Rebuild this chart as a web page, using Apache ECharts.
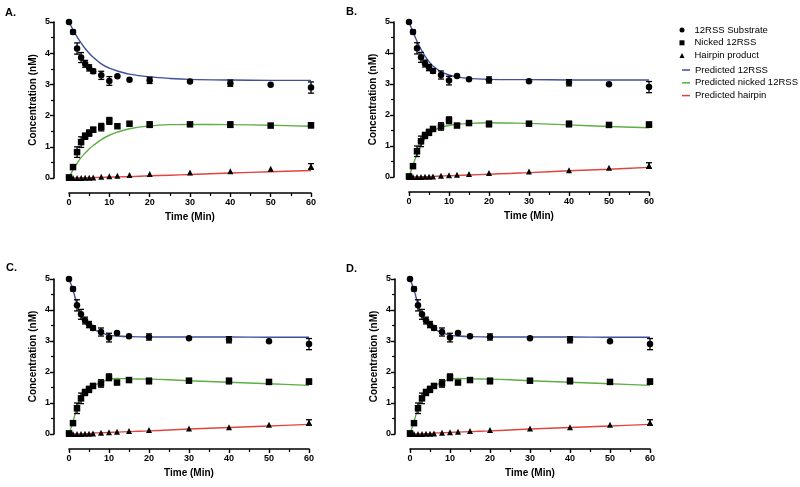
<!DOCTYPE html>
<html><head><meta charset="utf-8">
<script src="https://cdn.jsdelivr.net/npm/echarts@6/dist/echarts.min.js"></script>
<style>html,body{margin:0;padding:0;background:#fff}#c{width:800px;height:487px}</style>
</head><body><div id="c"></div><script>
// ---- data ----
const panelLabels = ['A.', 'B.', 'C.', 'D.'];
const time = [0, 1, 2, 3, 4, 5, 6, 8, 10, 12, 15, 20, 30, 40, 50, 60];
const substrate    = [5.00, 4.68, 4.15, 3.86, 3.66, 3.53, 3.42, 3.29, 3.11, 3.26, 3.15, 3.13, 3.09, 3.04, 2.99, 2.90];
const substrateErr = [0, 0.06, 0.18, 0.16, 0.11, 0.10, 0.07, 0.13, 0.14, 0, 0, 0.10, 0, 0.10, 0, 0.18];
const nicked       = [0.02, 0.35, 0.83, 1.15, 1.34, 1.44, 1.55, 1.63, 1.83, 1.66, 1.74, 1.71, 1.72, 1.71, 1.68, 1.69];
const nickedErr    = [0, 0.06, 0.17, 0.17, 0.10, 0.10, 0.07, 0.12, 0.11, 0, 0, 0.09, 0, 0.09, 0, 0.08];
const hairpin      = [0, 0, 0, 0, 0.01, 0.01, 0.02, 0.04, 0.06, 0.07, 0.10, 0.13, 0.18, 0.22, 0.30, 0.37];
const hairpinErr   = [0, 0, 0, 0, 0, 0, 0, 0, 0, 0, 0, 0, 0, 0, 0, 0.09];

const predTime = [0, 1, 2, 3, 4, 5, 6, 8, 10, 12, 15, 20, 25, 30, 40, 50, 60];
const predSubstrate = [
  [5.00, 4.75, 4.52, 4.33, 4.15, 4.00, 3.87, 3.66, 3.52, 3.43, 3.33, 3.24, 3.19, 3.16, 3.14, 3.13, 3.13],
  [5.00, 4.68, 4.38, 4.12, 3.90, 3.72, 3.58, 3.40, 3.29, 3.23, 3.18, 3.15, 3.14, 3.14, 3.13, 3.13, 3.13],
  [5.00, 4.65, 4.18, 3.80, 3.62, 3.48, 3.39, 3.27, 3.19, 3.16, 3.14, 3.13, 3.13, 3.13, 3.13, 3.12, 3.12],
  [5.00, 4.65, 4.18, 3.80, 3.62, 3.48, 3.39, 3.27, 3.19, 3.16, 3.14, 3.13, 3.13, 3.13, 3.13, 3.12, 3.12]
];
const predNicked = [
  [0, 0.27, 0.47, 0.66, 0.80, 0.93, 1.04, 1.23, 1.37, 1.47, 1.58, 1.67, 1.71, 1.72, 1.71, 1.69, 1.66],
  [0, 0.38, 0.74, 1.02, 1.24, 1.38, 1.48, 1.60, 1.66, 1.70, 1.73, 1.75, 1.74, 1.73, 1.68, 1.63, 1.59],
  [0, 0.40, 0.85, 1.18, 1.35, 1.46, 1.54, 1.67, 1.77, 1.79, 1.78, 1.77, 1.75, 1.72, 1.67, 1.62, 1.57],
  [0, 0.40, 0.85, 1.18, 1.35, 1.46, 1.54, 1.67, 1.77, 1.79, 1.78, 1.77, 1.75, 1.72, 1.67, 1.62, 1.57]
];
const predHairpin = [
  [0, 0, 0.005, 0.008, 0.01, 0.012, 0.015, 0.02, 0.03, 0.035, 0.045, 0.07, 0.09, 0.11, 0.16, 0.20, 0.24],
  [0, 0, 0.005, 0.008, 0.01, 0.015, 0.02, 0.03, 0.04, 0.05, 0.065, 0.09, 0.115, 0.14, 0.20, 0.25, 0.31],
  [0, 0, 0, 0.005, 0.008, 0.01, 0.03, 0.04, 0.05, 0.06, 0.075, 0.10, 0.13, 0.16, 0.21, 0.26, 0.31],
  [0, 0, 0, 0.005, 0.008, 0.01, 0.03, 0.04, 0.05, 0.06, 0.075, 0.10, 0.13, 0.16, 0.21, 0.26, 0.31]
];
const xTicks = { min: 0, max: 60, interval: 10 };
const yTicks = { min: 0, max: 5, interval: 1 };
const obsNames = ['12RSS Substrate', 'Nicked 12RSS', 'Hairpin product'];
const predNames = ['Predicted 12RSS', 'Predicted nicked 12RSS', 'Predicted hairpin'];

// ---- build ----
const FONT = 'Liberation Sans, Arial, sans-serif';
const predColors = ['#3d4f9e', '#5cae45', '#e0443f'];
const symbols = ['circle', 'rect', 'triangle'];
const grids = [
  { left: 69, top: 22, width: 242, height: 156 },
  { left: 409, top: 22, width: 240, height: 155 },
  { left: 69, top: 279, width: 240, height: 155 },
  { left: 410, top: 279, width: 240, height: 155 }
];
const axisCommon = {
  axisLine: { show: true, onZero: false, lineStyle: { color: '#000', width: 1.6 } },
  axisTick: { show: true, length: 4, lineStyle: { color: '#000', width: 1.4 } },
  minorTick: { show: true, splitNumber: 2, length: 3, lineStyle: { color: '#000', width: 1.2 } },
  splitLine: { show: false },
  axisLabel: { color: '#000', fontSize: 9, fontWeight: 'bold', fontFamily: FONT },
  nameTextStyle: { color: '#000', fontSize: 10, fontWeight: 'bold', fontFamily: FONT }
};
const xAxes = grids.map((g, i) => Object.assign({}, axisCommon, {
  type: 'value', gridIndex: i, min: xTicks.min, max: xTicks.max, interval: xTicks.interval,
  position: 'bottom', offset: 15, name: 'Time (Min)', nameLocation: 'middle', nameGap: 19,
  axisLabel: Object.assign({}, axisCommon.axisLabel, { margin: 5 })
}));
const yAxes = grids.map((g, i) => Object.assign({}, axisCommon, {
  type: 'value', gridIndex: i, min: yTicks.min, max: yTicks.max, interval: yTicks.interval,
  position: 'left', offset: 15, name: 'Concentration (nM)', nameLocation: 'middle', nameGap: 16,
  axisLabel: Object.assign({}, axisCommon.axisLabel, { margin: 4 })
}));

function errRender(params, api) {
  const x = api.value(0), lo = api.value(1), hi = api.value(2);
  const a = api.coord([x, hi]), b = api.coord([x, lo]);
  const w = 3;
  const st = { stroke: '#000', lineWidth: 1.3 };
  return { type: 'group', children: [
    { type: 'line', shape: { x1: a[0], y1: a[1], x2: b[0], y2: b[1] }, style: st },
    { type: 'line', shape: { x1: a[0] - w, y1: a[1], x2: a[0] + w, y2: a[1] }, style: st },
    { type: 'line', shape: { x1: b[0] - w, y1: b[1], x2: b[0] + w, y2: b[1] }, style: st }
  ] };
}

const obs = [substrate, nicked, hairpin];
const obsErr = [substrateErr, nickedErr, hairpinErr];
const preds = [predSubstrate, predNicked, predHairpin];
const series = [];
grids.forEach((g, p) => {
  for (let k = 0; k < 3; k++) {
    series.push({
      type: 'line', name: predNames[k], xAxisIndex: p, yAxisIndex: p,
      data: predTime.map((t, j) => [t, preds[k][p][j]]),
      symbol: 'none', smooth: 0.35, z: 2,
      lineStyle: { color: predColors[k], width: 1.4 }, itemStyle: { color: predColors[k] }
    });
  }
  for (let k = 0; k < 3; k++) {
    const ed = [];
    time.forEach((t, j) => { if (obsErr[k][j] > 0) ed.push([t, obs[k][j] - obsErr[k][j], obs[k][j] + obsErr[k][j]]); });
    series.push({
      type: 'custom', xAxisIndex: p, yAxisIndex: p, renderItem: errRender, data: ed, z: 3, silent: true
    });
    series.push({
      type: 'scatter', name: obsNames[k], xAxisIndex: p, yAxisIndex: p,
      data: time.map((t, j) => [t, obs[k][j]]),
      symbol: symbols[k], symbolSize: k === 2 ? 6 : 6.5, z: 4,
      itemStyle: { color: '#000', opacity: 1 }
    });
  }
});

const legendText = { fontSize: 9.5, color: '#000', fontFamily: FONT, lineHeight: 12, padding: [0, 0, 0, 5] };
const chart = echarts.init(document.getElementById('c'), null, { renderer: 'canvas' });
chart.setOption({
  animation: false,
  backgroundColor: '#fff',
  textStyle: { fontFamily: FONT },
  title: panelLabels.map((t, i) => ({
    text: t, left: [5, 346, 6, 346][i], top: [7, 6, 262, 263][i], padding: 0,
    textStyle: { fontSize: 11, fontWeight: 'bold', color: '#000', fontFamily: FONT }
  })),
  legend: [
    {
      orient: 'vertical', left: 679.5, top: 24, padding: 0, itemWidth: 5, itemHeight: 5, itemGap: 0.8,
      data: obsNames.map((n, k) => ({ name: n, icon: symbols[k] })),
      textStyle: legendText
    },
    {
      orient: 'vertical', left: 682, top: 64, padding: 0, itemWidth: 8, itemHeight: 1.5, itemGap: 0.8,
      data: predNames.map(n => ({ name: n, icon: 'rect' })),
      textStyle: Object.assign({}, legendText, { padding: [0, 0, 0, 0] })
    }
  ],
  grid: grids,
  xAxis: xAxes,
  yAxis: yAxes,
  series: series
});
</script></body></html>
